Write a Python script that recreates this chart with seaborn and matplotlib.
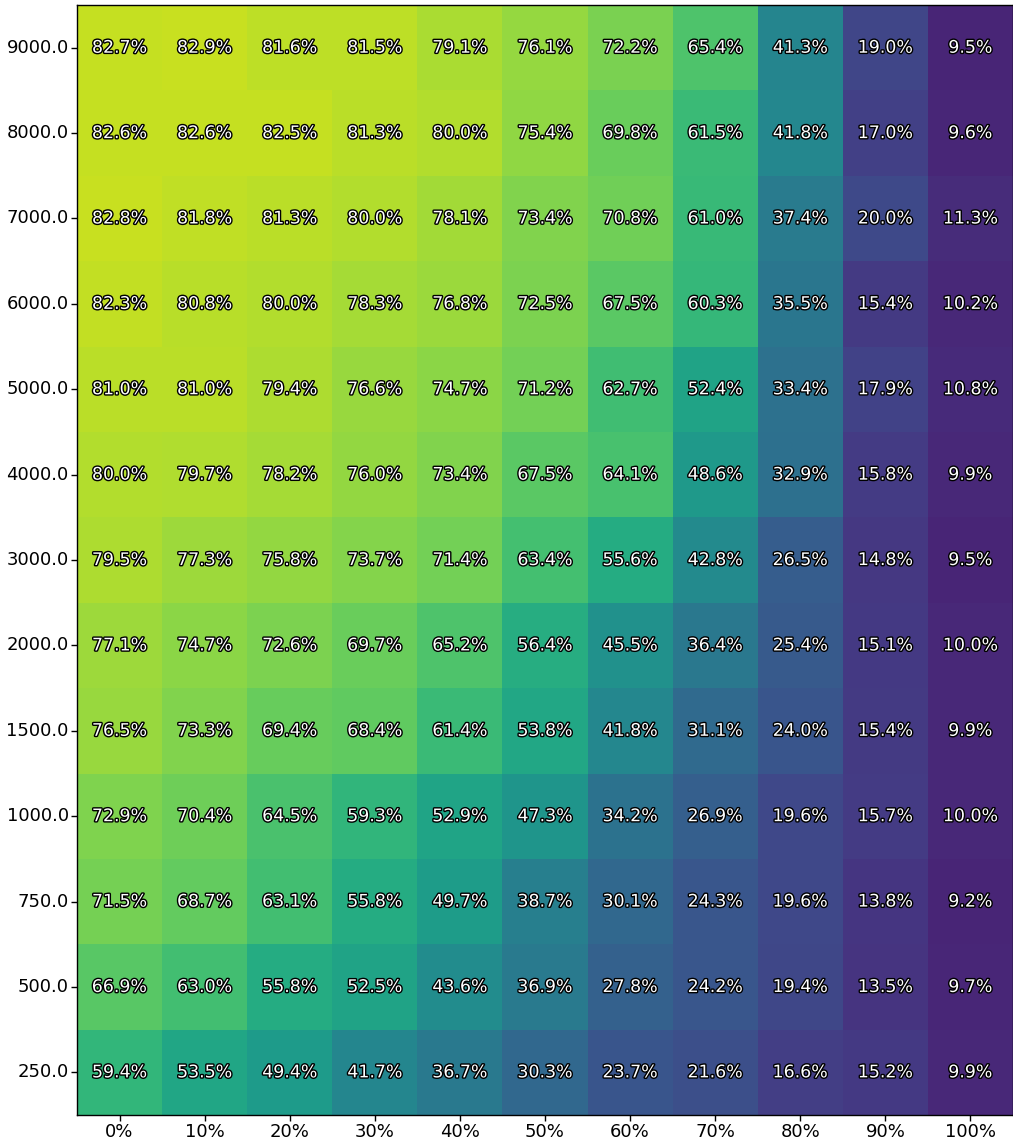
import matplotlib
matplotlib.use("Agg")
import matplotlib.pyplot as plt
import matplotlib.patheffects as pe
import numpy as np
import pandas as pd
import seaborn as sns

# Row labels (top to bottom) and column labels
row_labels = [9000.0, 8000.0, 7000.0, 6000.0, 5000.0, 4000.0, 3000.0,
              2000.0, 1500.0, 1000.0, 750.0, 500.0, 250.0]
col_labels = ["0%", "10%", "20%", "30%", "40%", "50%", "60%", "70%", "80%", "90%", "100%"]

r9000 = [82.7, 82.9, 81.6, 81.5, 79.1, 76.1, 72.2, 65.4, 41.3, 19.0, 9.5]
r8000 = [82.6, 82.6, 82.5, 81.3, 80.0, 75.4, 69.8, 61.5, 41.8, 17.0, 9.6]
r7000 = [82.8, 81.8, 81.3, 80.0, 78.1, 73.4, 70.8, 61.0, 37.4, 20.0, 11.3]
r6000 = [82.3, 80.8, 80.0, 78.3, 76.8, 72.5, 67.5, 60.3, 35.5, 15.4, 10.2]
r5000 = [81.0, 81.0, 79.4, 76.6, 74.7, 71.2, 62.7, 52.4, 33.4, 17.9, 10.8]
r4000 = [80.0, 79.7, 78.2, 76.0, 73.4, 67.5, 64.1, 48.6, 32.9, 15.8, 9.9]
r3000 = [79.5, 77.3, 75.8, 73.7, 71.4, 63.4, 55.6, 42.8, 26.5, 14.8, 9.5]
r2000 = [77.1, 74.7, 72.6, 69.7, 65.2, 56.4, 45.5, 36.4, 25.4, 15.1, 10.0]
r1500 = [76.5, 73.3, 69.4, 68.4, 61.4, 53.8, 41.8, 31.1, 24.0, 15.4, 9.9]
r1000 = [72.9, 70.4, 64.5, 59.3, 52.9, 47.3, 34.2, 26.9, 19.6, 15.7, 10.0]
r750 = [71.5, 68.7, 63.1, 55.8, 49.7, 38.7, 30.1, 24.3, 19.6, 13.8, 9.2]
r500 = [66.9, 63.0, 55.8, 52.5, 43.6, 36.9, 27.8, 24.2, 19.4, 13.5, 9.7]
r250 = [59.4, 53.5, 49.4, 41.7, 36.7, 30.3, 23.7, 21.6, 16.6, 15.2, 9.9]

rows = [r9000, r8000, r7000, r6000, r5000, r4000, r3000,
        r2000, r1500, r1000, r750, r500, r250]
df = pd.DataFrame(rows, index=row_labels, columns=col_labels)
annot = df.map(lambda v: f"{v:.1f}%")

fig = plt.figure(figsize=(10.13, 11.42), dpi=100)
ax = fig.add_axes([0.076, 0.0236, 0.924, 0.972])

sns.heatmap(
    df, ax=ax, cmap="viridis", vmin=0, vmax=90.5, cbar=False,
    annot=annot.values, fmt="",
    annot_kws={"color": "white", "fontsize": 12.5,
               "path_effects": [pe.withStroke(linewidth=2, foreground="black")]},
)

for side in ["top", "left", "bottom", "right"]:
    ax.spines[side].set_visible(True)
    ax.spines[side].set_color("black")
    ax.spines[side].set_linewidth(1.0)

ax.tick_params(axis="both", labelsize=13, length=4, width=1, pad=2)
ax.set_yticklabels([str(v) for v in row_labels], rotation=0)
ax.set_xticklabels(col_labels, rotation=0)
ax.set_xlabel("")
ax.set_ylabel("")

fig.savefig("out.png", dpi=100)
